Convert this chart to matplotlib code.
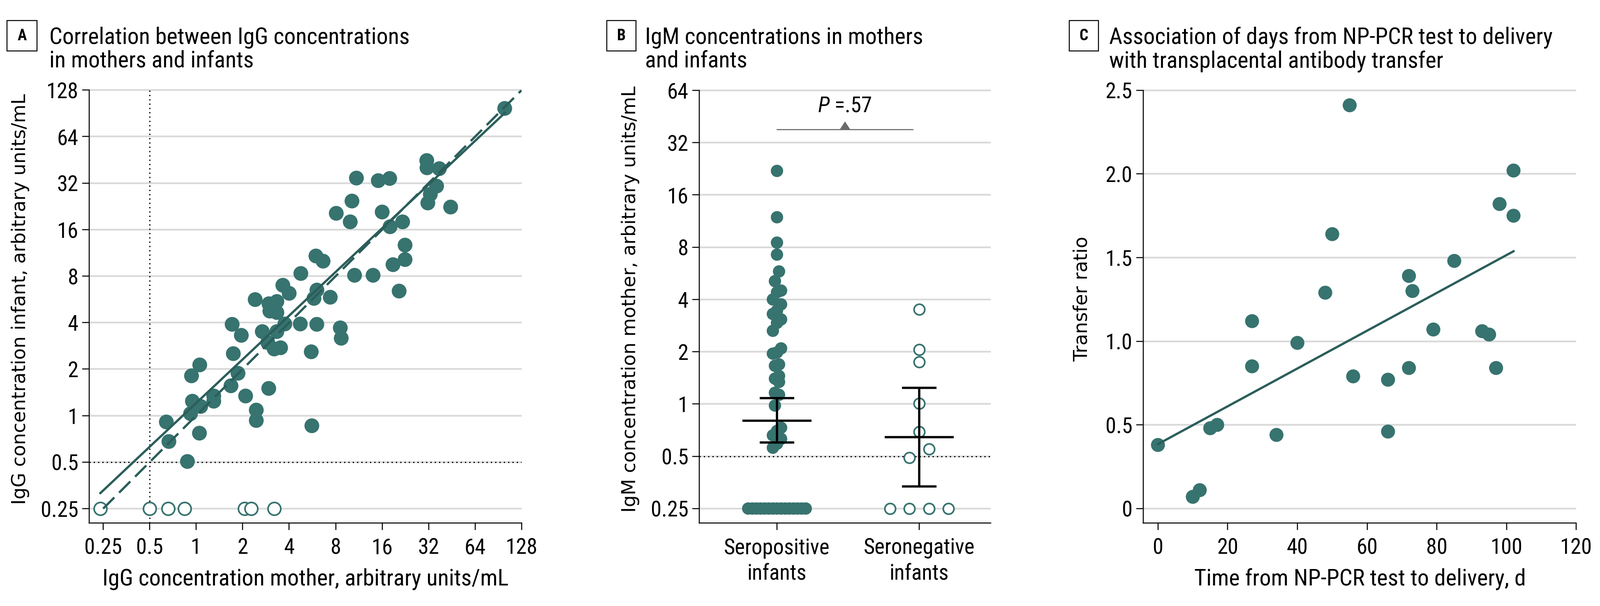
import numpy as np
import matplotlib
matplotlib.use("Agg")
import matplotlib.pyplot as plt
from matplotlib.patches import Rectangle
from matplotlib.ticker import FixedLocator, FixedFormatter, NullLocator

plt.rcParams['font.family'] = 'sans-serif'
plt.rcParams['font.sans-serif'] = ['Roboto Condensed', 'Liberation Sans Narrow', 'DejaVu Sans']
plt.rcParams['font.stretch'] = 'condensed'
plt.rcParams['mathtext.fontset'] = 'custom'
plt.rcParams['mathtext.rm'] = 'sans'
plt.rcParams['mathtext.it'] = 'sans:italic'

# ---------------- DATA ----------------
# Panel A: IgG mother vs infant (arbitrary units/mL)
igg_mother_pos = [99.4, 31.1, 31.2, 37.5, 36.0, 32.8, 31.6, 44.4, 10.9, 15.1, 17.9, 10.2,
                  8.07, 9.94, 16.0, 18.0, 21.7, 22.5, 22.5, 18.8, 20.6, 5.96, 6.63, 4.76,
                  10.6, 13.97, 3.64, 4.0, 6.05, 5.79, 7.38, 2.41, 2.96, 3.33, 3.0, 3.33,
                  1.71, 1.96, 2.68, 3.75, 4.72, 6.04, 8.57, 8.69, 3.33, 2.91, 3.2, 3.52,
                  5.56, 1.74, 1.055, 0.933, 1.866, 1.68, 1.30, 1.30, 0.946, 1.07, 0.92,
                  2.09, 2.95, 2.45, 2.45, 5.61, 0.641, 0.666, 1.05, 0.878]
igg_infant_pos = [97.4, 44.8, 40.2, 39.7, 30.6, 27.1, 23.8, 22.4, 34.5, 33.2, 34.3, 24.5,
                  20.4, 17.96, 20.8, 16.7, 17.96, 12.7, 10.24, 9.49, 6.4, 10.8, 10.0, 8.32,
                  8.1, 8.1, 6.98, 6.19, 6.5, 5.74, 5.84, 5.64, 5.30, 5.48, 4.75, 4.65,
                  3.90, 3.31, 3.50, 3.92, 3.92, 3.90, 3.70, 3.17, 3.50, 2.97, 2.7, 2.75,
                  2.59, 2.52, 2.13, 1.81, 1.88, 1.56, 1.34, 1.24, 1.24, 1.147, 1.03,
                  1.34, 1.50, 1.086, 0.93, 0.86, 0.91, 0.68, 0.77, 0.505]
igg_mother_neg = [0.24, 0.5, 0.66, 0.84, 2.06, 2.27, 3.2]
igg_infant_neg = [0.25, 0.25, 0.25, 0.25, 0.25, 0.25, 0.25]
reg_a_log2 = 0.27      # log2(infant) = a + b*log2(mother)
reg_b_log2 = 0.94
reg_x_range = [0.24, 100]
ident_range = [0.25, 128]
cutoff = 0.5
a_ticks = [0.25, 0.5, 1, 2, 4, 8, 16, 32, 64, 128]
a_ticklabels = ['0.25', '0.5', '1', '2', '4', '8', '16', '32', '64', '128']

# Panel B: IgM mother by infant serostatus
igm_seropos = [22.0, 11.9, 8.5, 7.25, 5.8, 5.1, 4.5, 4.4, 4.0, 3.75, 3.45, 3.3, 3.07, 2.93,
               2.64, 2.09, 1.98, 1.95, 1.69, 1.66, 1.45, 1.40, 1.34, 1.16, 1.13, 0.98,
               0.73, 0.70, 0.66, 0.63, 0.59, 0.56] + [0.25] * 15
igm_seroneg = [3.5, 2.06, 1.75, 1.01, 0.69, 0.55, 0.49, 0.25, 0.25, 0.25, 0.25]
b_categories = ['Seropositive\ninfants', 'Seronegative\ninfants']
b_mean = [0.80, 0.643]
b_ci_low = [0.60, 0.335]
b_ci_high = [1.08, 1.24]
b_pvalue_text = r'$P$ =.57'
b_bracket_y = 38.1
b_ticks = [0.25, 0.5, 1, 2, 4, 8, 16, 32, 64]
b_ticklabels = ['0.25', '0.5', '1', '2', '4', '8', '16', '32', '64']

# Panel C: days from NP-PCR test to delivery vs transfer ratio
days = [0, 10, 12, 15, 17, 27, 27, 34, 40, 48, 50, 55, 56, 66, 66, 72, 72, 73, 79, 85,
        93, 95, 97, 98, 102, 102]
transfer_ratio = [0.38, 0.07, 0.11, 0.48, 0.50, 1.12, 0.85, 0.44, 0.99, 1.29, 1.64, 2.41,
                  0.79, 0.77, 0.46, 0.84, 1.39, 1.30, 1.07, 1.48, 1.06, 1.04, 0.84, 1.82,
                  2.02, 1.75]
c_intercept = 0.385
c_slope = 0.0113
c_fit_range = [0, 102]
c_xticks = [0, 20, 40, 60, 80, 100, 120]
c_yticks = [0, 0.5, 1.0, 1.5, 2.0, 2.5]
c_yticklabels = ['0', '0.5', '1.0', '1.5', '2.0', '2.5']

# ---------------- LAYOUT / STYLE ----------------
W, H, DPI = 3892, 1475, 100
PT = 72.0 / DPI
fig = plt.figure(figsize=(W / DPI, H / DPI), dpi=DPI)
fig.patch.set_facecolor('white')
renderer = fig.canvas.get_renderer()

def fx(x): return x / W
def fy(y): return 1 - y / H
def rect(l, t, r, b): return [fx(l), fy(b), fx(r) - fx(l), fy(t) - fy(b)]

def fit_size(s, target_px, base=30, rotated=False, **kw):
    t = fig.text(0.5, 0.5, s, fontsize=base, rotation=90 if rotated else 0, **kw)
    bb = t.get_window_extent(renderer)
    t.remove()
    length = bb.height if rotated else bb.width
    return base * target_px / length

YFONT = dict(family='DejaVu Sans', stretch='normal')
TICK_FS = fit_size('100', 78)
LABEL_FS = fit_size('Time from NP-PCR test to delivery, d', 807)
TITLE_FS = fit_size('Correlation between IgG concentrations', 875)
YLAB_FS = fit_size('IgG concentration infant, arbitrary units/mL', 998, rotated=True, **YFONT)
BOXLET_FS = 27

TEAL = '#37736f'
TEAL_D = '#2b5e5a'
GRID = '#dadada'
GRID_LW = 4.3 * PT
SPINE_LW = 2.5 * PT
LINE_LW = 5.5 * PT
DOT = (0, (1, 2.5))

def style_axes(ax, xpad=13.5, ypad=7):
    for s in ['top', 'right']:
        ax.spines[s].set_visible(False)
    for s in ['left', 'bottom']:
        ax.spines[s].set_linewidth(SPINE_LW)
    ax.tick_params(direction='out', length=12, width=SPINE_LW, labelsize=TICK_FS, color='black')
    ax.tick_params(axis='x', pad=xpad)
    ax.tick_params(axis='y', pad=ypad)
    ax.set_facecolor('none')

def panel_header(letter, box_l, box_r, text_x, lines):
    fig.add_artist(Rectangle((fx(box_l), fy(124)), fx(box_r) - fx(box_l), fy(50) - fy(124),
                             transform=fig.transFigure, fill=False, lw=2.4 * PT, ec='black'))
    fig.text(fx((box_l + box_r) / 2), fy(87), letter, ha='center', va='center',
             fontsize=BOXLET_FS, fontweight='bold')
    for line, base in zip(lines, [107, 164]):
        fig.text(fx(text_x), fy(base), line, ha='left', va='baseline', fontsize=TITLE_FS)

# ---------------- PANEL A ----------------
axA = fig.add_axes(rect(217, 219.3, 1269, 1273))
axA.set_xscale('log', base=2)
axA.set_yscale('log', base=2)
ax_xlo, ax_ylo = 0.2031, 0.2018
axA.set_xlim(ax_xlo, 128)
axA.set_ylim(ax_ylo, 128)
style_axes(axA)
for axis in (axA.xaxis, axA.yaxis):
    axis.set_major_locator(FixedLocator(a_ticks))
    axis.set_major_formatter(FixedFormatter(a_ticklabels))
    axis.set_minor_locator(NullLocator())
axA.hlines(a_ticks, ax_xlo, 128, color=GRID, lw=GRID_LW, zorder=0, clip_on=False)
axA.axvline(cutoff, color='black', lw=3 * PT, ls=DOT, zorder=1)
axA.axhline(cutoff, color='black', lw=3 * PT, ls=DOT, zorder=1)
axA.scatter(igg_mother_pos, igg_infant_pos, s=(36 * PT) ** 2, c=TEAL, edgecolors='none',
            zorder=3, clip_on=False)
axA.scatter(igg_mother_neg, igg_infant_neg, s=(31 * PT) ** 2, facecolors='white',
            edgecolors=TEAL, linewidths=4 * PT, zorder=3, clip_on=False)
xi = np.array(ident_range)
axA.plot(xi, xi, color=TEAL_D, lw=LINE_LW, ls=(0, (7, 3)), zorder=4)
xr = np.geomspace(reg_x_range[0], reg_x_range[1], 60)
axA.plot(xr, 2 ** (reg_a_log2 + reg_b_log2 * np.log2(xr)), color=TEAL_D, lw=LINE_LW, zorder=4)
fig.text(fx(743), fy(1424), 'IgG concentration mother, arbitrary units/mL', ha='center',
         va='baseline', fontsize=LABEL_FS)
fig.text(fx(50), fy(728), 'IgG concentration infant, arbitrary units/mL', ha='center',
         va='center', rotation=90, fontsize=YLAB_FS, **YFONT)
panel_header('A', 17, 90, 120, ['Correlation between IgG concentrations', 'in mothers and infants'])

# ---------------- PANEL B ----------------
B_L, B_R, B_C0, B_C1 = 1701, 2410, 1890, 2236
unit = B_C1 - B_C0
axB = fig.add_axes(rect(B_L, 220, B_R, 1273.4))
axB.set_yscale('log', base=2)
b_ylo = 0.2059
axB.set_ylim(b_ylo, 64)
bx_lo, bx_hi = (B_L - B_C0) / unit, (B_R - B_C0) / unit
axB.set_xlim(bx_lo, bx_hi)
style_axes(axB)
axB.yaxis.set_major_locator(FixedLocator(b_ticks))
axB.yaxis.set_major_formatter(FixedFormatter(b_ticklabels))
axB.yaxis.set_minor_locator(NullLocator())
axB.set_xticks([0, 1])
axB.set_xticklabels(b_categories)
for lab in axB.get_xticklabels():
    lab.set_linespacing(1.29)
axB.hlines(b_ticks, bx_lo, bx_hi, color=GRID, lw=GRID_LW, zorder=0, clip_on=False)
axB.axhline(cutoff, color='black', lw=3 * PT, ls=DOT, zorder=1)

def swarm_x(ax, center, vals, spacing_px, maxhalf_px, bin_px=28):
    vals = np.asarray(vals, float)
    pts = ax.transData.transform(np.column_stack([np.full(len(vals), center), vals]))
    ypix = pts[:, 1]
    order = np.argsort(ypix, kind='stable')
    bins = []
    for i in order:
        if bins and ypix[i] - ypix[bins[-1][0]] < bin_px:
            bins[-1].append(i)
        else:
            bins.append([i])
    off = np.zeros(len(vals))
    for b in bins:
        n = len(b)
        sp = spacing_px if n < 2 else min(spacing_px, 2 * maxhalf_px / (n - 1))
        for k, i in enumerate(b):
            off[i] = (k - (n - 1) / 2) * sp
    ppu = ax.transData.transform((1, 1))[0] - ax.transData.transform((0, 1))[0]
    return center + off / ppu

xs_pos = swarm_x(axB, 0, igm_seropos, 10, 70)
xs_neg = swarm_x(axB, 1, igm_seroneg, 47.5, 71)
axB.scatter(xs_pos, igm_seropos, s=(30 * PT) ** 2, c=TEAL, edgecolors='none', zorder=3,
            clip_on=False)
axB.scatter(xs_neg, igm_seroneg, s=(26 * PT) ** 2, facecolors='white', edgecolors=TEAL,
            linewidths=4 * PT, zorder=3, clip_on=False)
for i in range(2):
    axB.hlines(b_mean[i], i - 0.243, i + 0.243, color='black', lw=LINE_LW, zorder=5)
    axB.vlines(i, b_ci_low[i], b_ci_high[i], color='black', lw=LINE_LW, zorder=5)
    axB.hlines([b_ci_low[i], b_ci_high[i]], i - 0.122, i + 0.122, color='black',
               lw=LINE_LW, zorder=5)
br_r = (2220 - B_C0) / unit
axB.plot([0, br_r], [b_bracket_y, b_bracket_y], color='#6b6b6b', lw=2.6 * PT, zorder=5,
         clip_on=False)
axB.plot([br_r / 2], [b_bracket_y], marker=[(-1, 0), (1, 0), (0, 1.54)], ms=40 * PT,
         color='#6b6b6b', mec='none', zorder=5, clip_on=False)
axB.text(br_r / 2, 2 ** (6 - (272.5 - 220) / 127.3), b_pvalue_text, ha='center',
         va='baseline', fontsize=TICK_FS)
fig.text(fx(1533), fy(728), 'IgM concentration mother, arbitrary units/mL', ha='center',
         va='center', rotation=90, fontsize=YLAB_FS, **YFONT)
panel_header('B', 1476, 1547, 1569, ['IgM concentrations in mothers', 'and infants'])

# ---------------- PANEL C ----------------
axC = fig.add_axes(rect(2781, 219.6, 3834.3, 1273.4))
axC.set_xlim(-4.21, 120)
axC.set_ylim(-0.0874, 2.5)
style_axes(axC)
axC.set_xticks(c_xticks)
axC.set_yticks(c_yticks)
axC.set_yticklabels(c_yticklabels)
axC.hlines(c_yticks, -4.21, 120, color=GRID, lw=GRID_LW, zorder=0, clip_on=False)
axC.scatter(days, transfer_ratio, s=(34 * PT) ** 2, c=TEAL, edgecolors='none', zorder=3,
            clip_on=False)
xf = np.array(c_fit_range, float)
axC.plot(xf, c_intercept + c_slope * xf, color=TEAL_D, lw=LINE_LW, zorder=4)
fig.text(fx(3308), fy(1424), 'Time from NP-PCR test to delivery, d', ha='center',
         va='baseline', fontsize=LABEL_FS)
fig.text(fx(2632), fy(728), 'Transfer ratio', ha='center', va='center', rotation=90,
         fontsize=YLAB_FS, **YFONT)
panel_header('C', 2601, 2672, 2698, ['Association of days from NP-PCR test to delivery',
                                     'with transplacental antibody transfer'])

fig.savefig('out.png', dpi=DPI, facecolor='white')
